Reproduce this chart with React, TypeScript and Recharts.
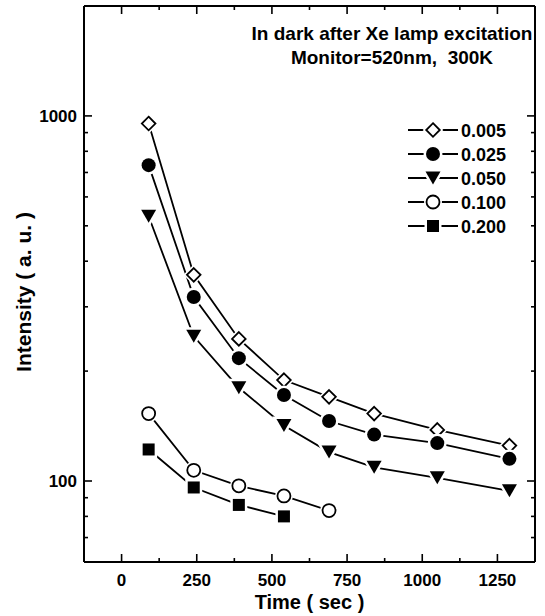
import React from 'react';
import { LineChart, Line, XAxis, YAxis, Customized } from 'recharts';

const times = [90, 240, 390, 540, 690, 840, 1050, 1290];
const v005 = [953, 367, 245, 189, 170, 153, 138, 125];
const v025 = [733, 319, 217, 172, 146, 134, 127, 115];
const v050 = [531, 249, 180, 142, 120, 109, 102, 94];
const v100 = [153, 107, 97, 91, 83];
const v200 = [122, 96, 86, 80];
const seriesNames = ['0.005', '0.025', '0.050', '0.100', '0.200'];
const seriesValues = [v005, v025, v050, v100, v200];
const markerKinds = ['diamond', 'filledCircle', 'triangleDown', 'openCircle', 'square'];

const xDomain = [-125, 1375];
const yDomain = [60, 2000];
const xMajorTicks = [0, 250, 500, 750, 1000, 1250];
const xMinorTicks = [125, 375, 625, 875, 1125];
const yMajorTicks = [100, 1000];
const yMinorTicks = [60, 70, 80, 90, 200, 300, 400, 500, 600, 700, 800, 900];
const annotationLines = ['In dark after Xe lamp excitation', 'Monitor=520nm,\u00A0\u00A0300K'];
const xTitle = 'Time ( sec )';
const yTitle = 'Intensity ( a. u. )';

const FONT = '"Liberation Sans", Arial, Helvetica, sans-serif';

// plot box (chart margins + axis sizes)
const CHART_W = 545;
const CHART_H = 616;
const MARGIN = { top: 6, right: 10, bottom: 0, left: 0 };
const Y_AXIS_W = 84;
const X_AXIS_H = 54;
const PLOT_L = MARGIN.left + Y_AXIS_W;
const PLOT_R = CHART_W - MARGIN.right;
const PLOT_T = MARGIN.top;
const PLOT_B = CHART_H - MARGIN.bottom - X_AXIS_H;

const xTicksAll = [...xMajorTicks, ...xMinorTicks].sort((a, b) => a - b);
const yTicksAll = [...yMajorTicks, ...yMinorTicks].sort((a, b) => a - b);

const seriesData = seriesValues.map((vals) => vals.map((v, i) => ({ t: times[i], v })));

// same mappings as the axes, used only for the mirrored frame ticks
const xPix = (v: number) => PLOT_L + ((v - xDomain[0]) / (xDomain[1] - xDomain[0])) * (PLOT_R - PLOT_L);
const yPix = (v: number) =>
  PLOT_T + ((Math.log10(yDomain[1]) - Math.log10(v)) / (Math.log10(yDomain[1]) - Math.log10(yDomain[0]))) * (PLOT_B - PLOT_T);

function Marker(props: any) {
  const { kind, cx, cy } = props;
  if (cx == null || cy == null || isNaN(cx) || isNaN(cy)) return <g />;
  const haloW = 5;
  switch (kind) {
    case 'diamond': {
      const r = 6.8;
      const pts = `${cx},${cy - r} ${cx + r},${cy} ${cx},${cy + r} ${cx - r},${cy}`;
      return (
        <g>
          <polygon points={pts} fill="white" stroke="white" strokeWidth={haloW} />
          <polygon points={pts} fill="white" stroke="black" strokeWidth={1.8} />
        </g>
      );
    }
    case 'filledCircle':
      return (
        <g>
          <circle cx={cx} cy={cy} r={7} fill="white" stroke="white" strokeWidth={haloW} />
          <circle cx={cx} cy={cy} r={7} fill="black" />
        </g>
      );
    case 'triangleDown': {
      const pts = `${cx - 7.5},${cy - 6.5} ${cx + 7.5},${cy - 6.5} ${cx},${cy + 6.5}`;
      return (
        <g>
          <polygon points={pts} fill="white" stroke="white" strokeWidth={haloW} />
          <polygon points={pts} fill="black" />
        </g>
      );
    }
    case 'openCircle':
      return (
        <g>
          <circle cx={cx} cy={cy} r={6.5} fill="white" stroke="white" strokeWidth={haloW} />
          <circle cx={cx} cy={cy} r={6.5} fill="white" stroke="black" strokeWidth={1.8} />
        </g>
      );
    case 'square':
    default:
      return (
        <g>
          <rect x={cx - 6} y={cy - 6} width={12} height={12} fill="white" stroke="white" strokeWidth={haloW} />
          <rect x={cx - 6} y={cy - 6} width={12} height={12} fill="black" />
        </g>
      );
  }
}

const XTickBottom = (props: any) => {
  const { x, y, payload } = props;
  const major = xMajorTicks.includes(payload.value);
  return (
    <g>
      <line x1={x} x2={x} y1={y} y2={y - (major ? 8 : 4)} stroke="black" strokeWidth={1.6} />
      {major && (
        <text x={x} y={y + 24} textAnchor="middle" fontFamily={FONT} fontWeight="bold" fontSize={17} fill="black">
          {payload.value}
        </text>
      )}
    </g>
  );
};

const YTickLeft = (props: any) => {
  const { x, y, payload } = props;
  const major = yMajorTicks.includes(payload.value);
  return (
    <g>
      <line x1={x} x2={x + (major ? 8 : 4)} y1={y} y2={y} stroke="black" strokeWidth={1.6} />
      {major && (
        <text x={x - 7} y={y + 6} textAnchor="end" fontFamily={FONT} fontWeight="bold" fontSize={17} fill="black">
          {payload.value}
        </text>
      )}
    </g>
  );
};

const Overlay = () => (
  <g fontFamily={FONT} fontWeight="bold" fill="black">
    {/* top and right frame with mirrored ticks */}
    <line x1={PLOT_L} x2={PLOT_R} y1={PLOT_T} y2={PLOT_T} stroke="black" strokeWidth={2} />
    <line x1={PLOT_R} x2={PLOT_R} y1={PLOT_T} y2={PLOT_B} stroke="black" strokeWidth={2} />
    {xTicksAll.map((v) => (
      <line
        key={`tx${v}`}
        x1={xPix(v)}
        x2={xPix(v)}
        y1={PLOT_T}
        y2={PLOT_T + (xMajorTicks.includes(v) ? 8 : 4)}
        stroke="black"
        strokeWidth={1.6}
      />
    ))}
    {yTicksAll.map((v) => (
      <line
        key={`ry${v}`}
        x1={PLOT_R}
        x2={PLOT_R - (yMajorTicks.includes(v) ? 8 : 4)}
        y1={yPix(v)}
        y2={yPix(v)}
        stroke="black"
        strokeWidth={1.6}
      />
    ))}
    {annotationLines.map((s, i) => (
      <text key={s} x={392} y={40 + i * 24} textAnchor="middle" fontSize={19}>
        {s}
      </text>
    ))}
    {seriesNames.map((name, i) => {
      const y = 130 + i * 24;
      return (
        <g key={name}>
          <line x1={408} x2={458} y1={y} y2={y} stroke="black" strokeWidth={1.8} />
          <Marker kind={markerKinds[i]} cx={433} cy={y} />
          <text x={461} y={y + 6.5} fontSize={18}>
            {name}
          </text>
        </g>
      );
    })}
    <text x={309.5} y={609} textAnchor="middle" fontSize={20}>
      {xTitle}
    </text>
    <text x={31} y={292} textAnchor="middle" fontSize={21} transform="rotate(-90 31 292)">
      {yTitle}
    </text>
  </g>
);

export default function App() {
  return (
    <div style={{ position: 'absolute', left: 0, top: 0, background: 'white' }}>
      <LineChart width={CHART_W} height={CHART_H} margin={MARGIN}>
        <XAxis
          xAxisId="b"
          type="number"
          dataKey="t"
          domain={xDomain}
          ticks={xTicksAll}
          interval={0}
          tickSize={0}
          tickMargin={0}
          tick={<XTickBottom />}
          tickLine={false}
          stroke="black"
          strokeWidth={2}
          height={X_AXIS_H}
          allowDataOverflow
        />
        <YAxis
          yAxisId="l"
          type="number"
          scale="log"
          dataKey="v"
          domain={yDomain}
          ticks={yTicksAll}
          interval={0}
          tickSize={0}
          tickMargin={0}
          tick={<YTickLeft />}
          tickLine={false}
          stroke="black"
          strokeWidth={2}
          width={Y_AXIS_W}
          allowDataOverflow
        />
        {seriesData.map((d, i) => (
          <Line
            key={seriesNames[i]}
            xAxisId="b"
            yAxisId="l"
            data={d}
            dataKey="v"
            stroke="black"
            strokeWidth={1.8}
            isAnimationActive={false}
            dot={<Marker kind={markerKinds[i]} />}
          />
        ))}
        <Customized component={Overlay} />
      </LineChart>
    </div>
  );
}
